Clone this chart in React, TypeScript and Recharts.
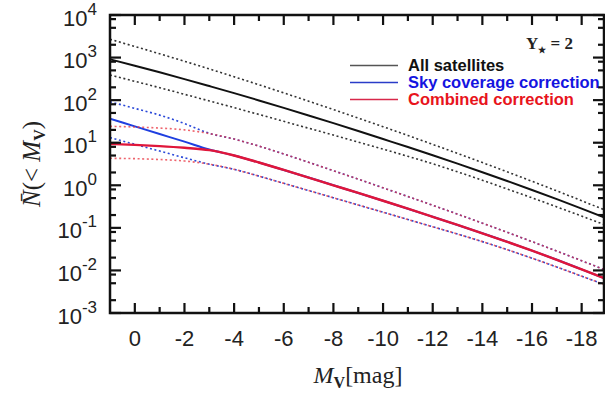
import React from 'react';
import { LineChart, Line, XAxis, YAxis } from 'recharts';

// absolute magnitude grid (x) and cumulative counts
const mvGrid = [1, 0, -1, -2, -3, -4, -5, -6, -7, -8, -9, -10, -11, -12, -13, -14, -15, -16, -17, -18, -18.9];

const allSatellites = [912, 643, 450, 312, 214, 146, 98.4, 65.8, 43.7, 28.8, 18.8, 12.2, 7.91, 5.07, 3.22, 2.03, 1.26, 0.776, 0.472, 0.283, 0.177];
const allSatellitesHi = [2685, 1824, 1227, 818, 541, 354, 230, 148, 94.6, 60.1, 37.9, 23.8, 14.8, 9.14, 5.61, 3.42, 2.07, 1.24, 0.738, 0.435, 0.267];
const allSatellitesLo = [390, 277, 196, 137, 95.9, 66.7, 46.1, 31.8, 21.9, 15.1, 10.3, 7.05, 4.79, 3.2, 2.07, 1.31, 0.818, 0.507, 0.311, 0.189, 0.12];

const skyCoverage = [36.6, 24.2, 16.0, 10.6, 6.9, 5.01, 3.43, 2.29, 1.52, 1.0, 0.661, 0.433, 0.282, 0.182, 0.117, 0.0746, 0.047, 0.0292, 0.0178, 0.0106, 0.0066];
const skyCoverageHi = [91.8, 64, 44.5, 28.2, 16.6, 12.2, 8.32, 5.43, 3.47, 2.2, 1.39, 0.871, 0.545, 0.339, 0.21, 0.129, 0.0787, 0.0475, 0.0284, 0.0169, 0.0105];
const skyCoverageLo = [13.2, 9.16, 6.37, 4.43, 3.13, 2.37, 1.64, 1.11, 0.753, 0.509, 0.344, 0.233, 0.157, 0.106, 0.0716, 0.0475, 0.0307, 0.0194, 0.012, 0.00733, 0.00469];

const combined = [9.33, 8.91, 8.32, 7.59, 6.68, 5.01, 3.43, 2.29, 1.52, 1.0, 0.661, 0.433, 0.282, 0.182, 0.117, 0.0746, 0.047, 0.0292, 0.0178, 0.0106, 0.0066];
const combinedHi = [24.3, 23.4, 22.1, 20.0, 16.4, 12.2, 8.32, 5.43, 3.47, 2.2, 1.39, 0.871, 0.545, 0.339, 0.21, 0.129, 0.0787, 0.0475, 0.0284, 0.0169, 0.0105];
const combinedLo = [4.31, 4.22, 4.03, 3.72, 3.13, 2.37, 1.64, 1.11, 0.753, 0.509, 0.344, 0.233, 0.157, 0.106, 0.0716, 0.0475, 0.0307, 0.0194, 0.012, 0.00733, 0.00469];

const xTicks = [0, -1, -2, -3, -4, -5, -6, -7, -8, -9, -10, -11, -12, -13, -14, -15, -16, -17, -18];
const yDecades = [-3, -2, -1, 0, 1, 2, 3, 4];
const yMinorSteps = [2, 5, 8];

const legendItems = [
  { label: 'All satellites', line: '#555', text: '#111' },
  { label: 'Sky coverage correction', line: '#2a3cc8', text: '#1414e0' },
  { label: 'Combined correction', line: '#d8284a', text: '#e8141c' },
];

// plot box in page pixels
const W = 605;
const H = 397;
const LEFT = 110;
const RIGHT = 604;
const TOP = 15;
const BOTTOM = 313;

const SANS = '"Liberation Sans", Arial, Helvetica, sans-serif';
const SERIF = '"Liberation Serif", "Times New Roman", serif';

const data = mvGrid.map((mv, i) => ({
  mv,
  all: allSatellites[i],
  allHi: allSatellitesHi[i],
  allLo: allSatellitesLo[i],
  sky: skyCoverage[i],
  skyHi: skyCoverageHi[i],
  skyLo: skyCoverageLo[i],
  comb: combined[i],
  combHi: combinedHi[i],
  combLo: combinedLo[i],
}));

const yTicks: number[] = [];
yDecades.forEach((d) => {
  yTicks.push(Math.pow(10, d));
  if (d < 4) yMinorSteps.forEach((m) => yTicks.push(m * Math.pow(10, d)));
});

const XTick = (props: any) => {
  const { x, payload } = props;
  const v = payload.value;
  const major = v % 2 === 0;
  const len = major ? 10 : 6;
  return (
    <g>
      <line x1={x} x2={x} y1={BOTTOM} y2={BOTTOM - len} stroke="#111" strokeWidth={2.2} />
      <line x1={x} x2={x} y1={TOP} y2={TOP + len} stroke="#111" strokeWidth={2.2} />
      {major && (
        <text x={x} y={346} textAnchor="middle" fontSize={22} fontFamily={SANS} fill="#222">
          {v === 0 ? '0' : '-' + Math.abs(v)}
        </text>
      )}
    </g>
  );
};

const YTick = (props: any) => {
  const { y, payload } = props;
  const lg = Math.log10(payload.value);
  const major = Math.abs(lg - Math.round(lg)) < 1e-6;
  const len = major ? 11 : 6;
  return (
    <g>
      <line x1={LEFT} x2={LEFT + len} y1={y} y2={y} stroke="#111" strokeWidth={2.2} />
      <line x1={RIGHT} x2={RIGHT - len} y1={y} y2={y} stroke="#111" strokeWidth={2.2} />
      {major && (
        <text x={97} y={y + 10.5} textAnchor="end" fontSize={22} fontFamily={SANS} fill="#222">
          10
          <tspan fontSize={17} dy={-11}>{String(Math.round(lg))}</tspan>
        </text>
      )}
    </g>
  );
};

const App: React.FC = () => {
  return (
    <div style={{ position: 'relative', width: W, height: H, background: '#fff' }}>
      <style>{'body{margin:0}'}</style>
      <LineChart width={W} height={H} data={data} margin={{ top: TOP, right: W - RIGHT, bottom: 0, left: 0 }}>
        <XAxis
          dataKey="mv"
          type="number"
          domain={[-18.9, 1]}
          reversed
          allowDataOverflow
          ticks={xTicks}
          interval={0}
          tick={<XTick />}
          tickLine={false}
          axisLine={false}
          height={H - BOTTOM}
        />
        <YAxis
          scale="log"
          type="number"
          domain={[0.001, 10000]}
          allowDataOverflow
          ticks={yTicks}
          interval={0}
          tick={<YTick />}
          tickLine={false}
          axisLine={false}
          width={LEFT}
        />
        <Line dataKey="allHi" type="monotone" stroke="#333" strokeWidth={1.6} strokeDasharray="2 2.6" dot={false} isAnimationActive={false} />
        <Line dataKey="allLo" type="monotone" stroke="#333" strokeWidth={1.6} strokeDasharray="2 2.6" dot={false} isAnimationActive={false} />
        <Line dataKey="all" type="monotone" stroke="#111" strokeWidth={2} dot={false} isAnimationActive={false} />
        <Line dataKey="skyHi" type="monotone" stroke="#2a48d8" strokeWidth={1.6} strokeDasharray="2 2.6" dot={false} isAnimationActive={false} />
        <Line dataKey="skyLo" type="monotone" stroke="#2a48d8" strokeWidth={1.6} strokeDasharray="2 2.6" dot={false} isAnimationActive={false} />
        <Line dataKey="sky" type="monotone" stroke="#1f3fe0" strokeWidth={2} dot={false} isAnimationActive={false} />
        <Line dataKey="combHi" type="monotone" stroke="#e8303c" strokeOpacity={0.75} strokeWidth={1.6} strokeDasharray="2 2.6" dot={false} isAnimationActive={false} />
        <Line dataKey="combLo" type="monotone" stroke="#e8303c" strokeOpacity={0.75} strokeWidth={1.6} strokeDasharray="2 2.6" dot={false} isAnimationActive={false} />
        <Line dataKey="comb" type="monotone" stroke="#e0163a" strokeWidth={2.4} dot={false} isAnimationActive={false} />
      </LineChart>
      <svg width={W} height={H} style={{ position: 'absolute', left: 0, top: 0, pointerEvents: 'none' }}>
        <rect x={LEFT} y={TOP} width={RIGHT - LEFT} height={BOTTOM - TOP} fill="none" stroke="#111" strokeWidth={2.5} />
        {legendItems.map((it, i) => (
          <g key={it.label}>
            <line x1={350} x2={398} y1={65.5 + i * 17} y2={65.5 + i * 17} stroke={it.line} strokeWidth={1.5} />
            <text x={408} y={71 + i * 17} fontSize={16.5} fontWeight="bold" fontFamily={SANS} fill={it.text}>
              {it.label}
            </text>
          </g>
        ))}
        <text x={526} y={49} fontSize={17} fontWeight="bold" fontFamily={SERIF} fill="#222">
          Υ<tspan fontSize={9} dy={4}>★</tspan>
          <tspan dy={-4}> = 2</tspan>
        </text>
        <text x={358} y={383} textAnchor="middle" fontSize={24} fontFamily={SERIF} fill="#222">
          <tspan fontStyle="italic">M</tspan>
          <tspan fontSize={16} fontWeight="bold" dy={5}>V</tspan>
          <tspan dy={-5}>[mag]</tspan>
        </text>
        <text
          transform="translate(40,164) rotate(-90)"
          textAnchor="middle"
          fontSize={25}
          fontFamily={SERIF}
          fill="#222"
        >
          <tspan fontStyle="italic">N̄</tspan>
          <tspan>(&lt; </tspan>
          <tspan fontStyle="italic">M</tspan>
          <tspan fontSize={16} fontWeight="bold" dy={5}>V</tspan>
          <tspan dy={-5}>)</tspan>
        </text>
      </svg>
    </div>
  );
};

export default App;
